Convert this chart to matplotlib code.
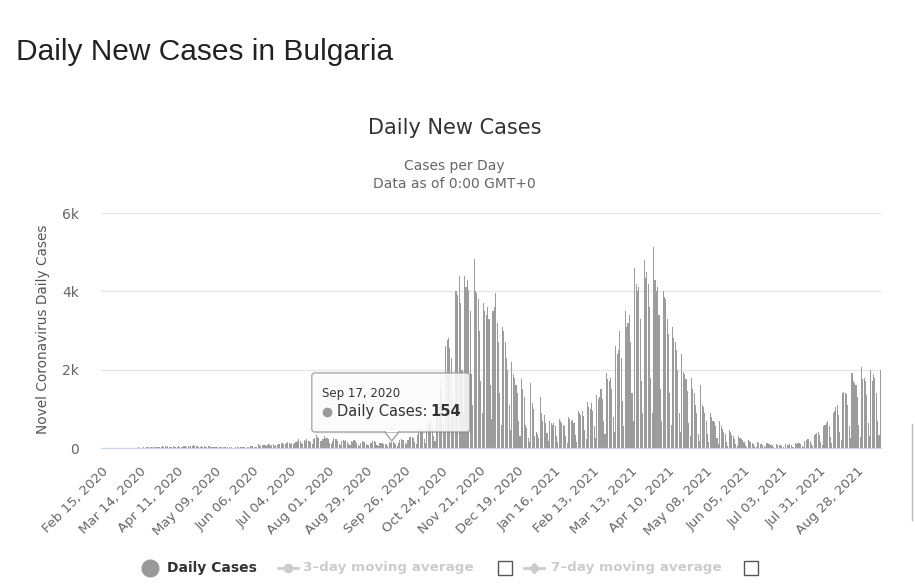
import matplotlib
matplotlib.use("Agg")
import matplotlib.pyplot as plt
from matplotlib.patches import FancyBboxPatch, Polygon, Rectangle

# daily new cases, Feb 15 2020 .. Sep 14 2021
feb_2020 = [0, 0, 0, 0, 0, 0, 0, 0, 0, 0, 0, 0, 0, 0, 0]
mar_2020 = [0, 0, 0, 0, 0, 0, 0, 4, 0, 0, 2, 1, 16, 8, 10, 11, 30, 11, 13, 35, 29,
            17, 16, 26, 22, 22, 38, 17, 27, 21, 40]
apr_2020 = [23, 42, 29, 45, 28, 19, 16, 49, 27, 33, 28, 61, 33, 31, 18, 52, 56, 35,
            53, 33, 42, 48, 88, 53, 60, 48, 23, 37, 62, 34]
may_2020 = [55, 15, 35, 42, 44, 37, 27, 33, 30, 31, 37, 18, 29, 24, 14, 22, 19, 16,
            11, 28, 19, 6, 10, 21, 12, 16, 11, 13, 18, 26, 15]
jun_2020 = [12, 26, 24, 46, 48, 43, 37, 28, 35, 96, 81, 40, 65, 82, 74, 61, 85, 94,
            59, 73, 93, 57, 64, 70, 100, 113, 134, 131, 112, 109]
jul_2020 = [127, 163, 140, 100, 122, 95, 140, 159, 184, 229, 174, 131, 98, 208, 172,
            220, 178, 188, 164, 111, 231, 257, 328, 271, 252, 169, 166, 227, 318, 248, 258]
aug_2020 = [236, 133, 114, 181, 252, 231, 222, 168, 106, 79, 180, 193, 187, 207, 148,
            91, 65, 175, 162, 200, 172, 133, 86, 52, 138, 174, 159, 156, 111, 79, 72]
sep_2020 = [138, 125, 171, 186, 149, 83, 53, 124, 122, 117, 114, 108, 98, 46, 152,
            130, 154, 156, 135, 110, 53, 115, 195, 238, 207, 198, 121, 95, 217, 274]
oct_2020 = [290, 280, 250, 150, 100, 330, 410, 500, 480, 400, 230, 140, 530, 670, 650,
            710, 560, 300, 190, 800, 1050, 1150, 1700, 1450, 700, 400, 2600, 2750, 2800,
            2550, 2300]
nov_2020 = [1300, 800, 4000, 4000, 3900, 4400, 3700, 2000, 900, 4400, 4100, 4300, 4041,
            3500, 1900, 1100, 4828, 4000, 3950, 3800, 3000, 1700, 900, 3700, 3500, 3400,
            3600, 3300, 1600, 750]
dec_2020 = [3500, 3600, 3950, 3200, 2700, 1400, 600, 3100, 3000, 2700, 2300, 2000, 1100,
            450, 2200, 1900, 1800, 1600, 1400, 700, 300, 1750, 1500, 1300, 600, 500, 250,
            150, 1650, 1150, 1000]
jan_2021 = [300, 400, 350, 250, 1300, 900, 700, 850, 650, 380, 170, 700, 650, 600, 650,
            550, 300, 150, 750, 700, 650, 600, 550, 300, 140, 800, 750, 700, 720, 650, 330]
feb_2021 = [160, 950, 900, 850, 950, 820, 450, 220, 1180, 1050, 1000, 1150, 950, 550,
            250, 1350, 1250, 1300, 1500, 1250, 700, 350, 1920, 1750, 1700, 1800, 1500, 800]
mar_2021 = [400, 2600, 2400, 2500, 3000, 2300, 1200, 550, 3500, 3100, 3200, 3400, 2700,
            1400, 700, 4600, 4200, 4000, 4100, 3300, 1700, 900, 4800, 4350, 4500, 4200,
            3600, 1800, 900, 5137, 4300]
apr_2021 = [4000, 4100, 3400, 1500, 700, 4000, 3850, 3800, 3300, 2900, 1400, 600, 3100,
            2800, 2700, 2500, 2000, 900, 400, 2400, 1950, 1900, 1750, 1450, 650, 300,
            1800, 1500, 1400, 1100]
may_2021 = [900, 350, 180, 1600, 1100, 1050, 900, 700, 350, 150, 900, 800, 700, 670,
            550, 250, 100, 700, 550, 480, 420, 350, 160, 60, 450, 400, 330, 300, 220, 100, 40]
jun_2021 = [300, 250, 220, 200, 160, 80, 30, 200, 180, 150, 140, 110, 50, 20, 160, 120,
            110, 100, 80, 40, 15, 120, 100, 90, 85, 70, 35, 12, 100, 85]
jul_2021 = [80, 75, 60, 30, 12, 95, 85, 80, 90, 70, 35, 15, 120, 110, 130, 140, 110, 50,
            25, 190, 200, 220, 230, 180, 90, 40, 320, 350, 380, 400, 330]
aug_2021 = [150, 70, 550, 600, 650, 700, 550, 280, 120, 900, 950, 1050, 1100, 850, 420,
            200, 1400, 1420, 1400, 1380, 1100, 550, 250, 1920, 1700, 1650, 1600, 1300, 600,
            280, 2070]
sep_2021 = [1750, 1800, 1700, 1350, 650, 300, 1980, 1700, 1900, 1800, 1400, 700, 320, 2000]

cases = (feb_2020 + mar_2020 + apr_2020 + may_2020 + jun_2020 + jul_2020 + aug_2020
         + sep_2020 + oct_2020 + nov_2020 + dec_2020 + jan_2021 + feb_2021 + mar_2021
         + apr_2021 + may_2021 + jun_2021 + jul_2021 + aug_2021 + sep_2021)
days = list(range(len(cases)))

tick_labels = ["Feb 15, 2020", "Mar 14, 2020", "Apr 11, 2020", "May 09, 2020",
               "Jun 06, 2020", "Jul 04, 2020", "Aug 01, 2020", "Aug 29, 2020",
               "Sep 26, 2020", "Oct 24, 2020", "Nov 21, 2020", "Dec 19, 2020",
               "Jan 16, 2021", "Feb 13, 2021", "Mar 13, 2021", "Apr 10, 2021",
               "May 08, 2021", "Jun 05, 2021", "Jul 03, 2021", "Jul 31, 2021",
               "Aug 28, 2021"]
y_ticks = [0, 2000, 4000, 6000]
y_labels = ["0", "2k", "4k", "6k"]

tip_index = 215
tip_date = "Sep 17, 2020"

W, H = 915, 584
fig = plt.figure(figsize=(W / 100, H / 100), dpi=100)
ax = fig.add_axes([101 / W, 136 / H, 780 / W, 235 / H])

ax.bar(days, cases, width=0.8, color="#9c9c9c", linewidth=0)
ax.set_xlim(-0.5, len(cases) - 0.5)
ax.set_ylim(0, 6000)
ax.set_yticks(y_ticks)
ax.set_yticklabels(y_labels)
ax.set_xticks(range(0, 28 * len(tick_labels), 28))
ax.set_xticklabels(tick_labels, rotation=45, ha="right", rotation_mode="anchor")
ax.tick_params(axis="x", length=0, pad=12, labelsize=9.5, labelcolor="#666666")
ax.tick_params(axis="y", length=0, pad=16, labelsize=10, labelcolor="#666666")
ax.grid(axis="y", color="#e6e6e6", linewidth=1)
ax.set_axisbelow(True)
for s in ["top", "right", "left"]:
    ax.spines[s].set_visible(False)
ax.spines["bottom"].set_color("#ccd6eb")

fig.text(43 / W, 1 - 329 / H, "Novel Coronavirus Daily Cases", rotation=90,
         ha="center", va="center", fontsize=9.8, color="#555555")

# page + chart titles
fig.text(16 / W, 1 - 52 / H, "Daily New Cases in Bulgaria", ha="left", va="center",
         fontsize=21.5, color="#222222", family="Liberation Sans")
fig.text(0.497, 1 - 128 / H, "Daily New Cases", ha="center", va="center",
         fontsize=15, color="#333333")
fig.text(0.497, 1 - 166 / H, "Cases per Day", ha="center", va="center",
         fontsize=10, color="#666666")
fig.text(0.497, 1 - 184 / H, "Data as of 0:00 GMT+0", ha="center", va="center",
         fontsize=10, color="#666666")

# overlay in pixel coords for tooltip and legend
ov = fig.add_axes([0, 0, 1, 1])
ov.set_xlim(0, W)
ov.set_ylim(H, 0)
ov.axis("off")

fig.canvas.draw()
px, py = ax.transData.transform((tip_index, cases[tip_index]))
tx, ty = px, H - py - 1

bx0, bx1 = tx - 80, tx + 78
by0, by1 = ty - 68, ty - 9
shadow = FancyBboxPatch((bx0 + 1.5, by0 + 1.5), bx1 - bx0, by1 - by0,
                        boxstyle="round,pad=0,rounding_size=3", facecolor="#000000",
                        alpha=0.08, edgecolor="none")
ov.add_patch(shadow)
box = FancyBboxPatch((bx0, by0), bx1 - bx0, by1 - by0,
                     boxstyle="round,pad=0,rounding_size=3", facecolor="white",
                     alpha=0.85, edgecolor="#999999", linewidth=1)
ov.add_patch(box)
ov.add_patch(Polygon([[tx - 7, by1], [tx, ty], [tx + 7, by1]], closed=True,
                     facecolor="white", edgecolor="#999999", linewidth=1, alpha=0.9))
ov.add_patch(Rectangle((tx - 6, by1 - 1.5), 12, 2, facecolor="white", edgecolor="none"))
ov.text(bx0 + 10, by0 + 21, tip_date, fontsize=8.5, color="#333333", va="center")
ov.plot(bx0 + 15, by0 + 39, "o", ms=6, color="#999999")
ov.text(bx0 + 25, by0 + 39, "Daily Cases: ", fontsize=10.5, color="#333333", va="center")
ov.text(bx0 + 118, by0 + 39, f"{cases[tip_index]}", fontsize=10.5, color="#333333",
        va="center", fontweight="bold")

# legend
ly = 568
ov.plot(150, ly, "o", ms=12, color="#999999")
ov.text(167, ly, "Daily Cases", fontsize=10, fontweight="bold", color="#333333",
        va="center")
ov.plot([278, 298], [ly, ly], color="#cccccc", lw=2)
ov.plot(288, ly, "o", ms=6, color="#cccccc")
ov.text(303, ly, "3\u2013day moving average", fontsize=9.7, fontweight="bold",
        color="#cccccc", va="center")
ov.add_patch(Rectangle((498, ly - 7), 14, 14, facecolor="white", edgecolor="#555555",
                       linewidth=1))
ov.plot([524, 544], [ly, ly], color="#cccccc", lw=2)
ov.plot(534, ly, "D", ms=5, color="#cccccc")
ov.text(551, ly, "7\u2013day moving average", fontsize=9.7, fontweight="bold",
        color="#cccccc", va="center")
ov.add_patch(Rectangle((744, ly - 7), 14, 14, facecolor="white", edgecolor="#555555",
                       linewidth=1))

# page edge line on the right
ov.plot([912, 912], [424, 520], color="#bbbbbb", lw=1)

fig.savefig("out.png", dpi=100)
